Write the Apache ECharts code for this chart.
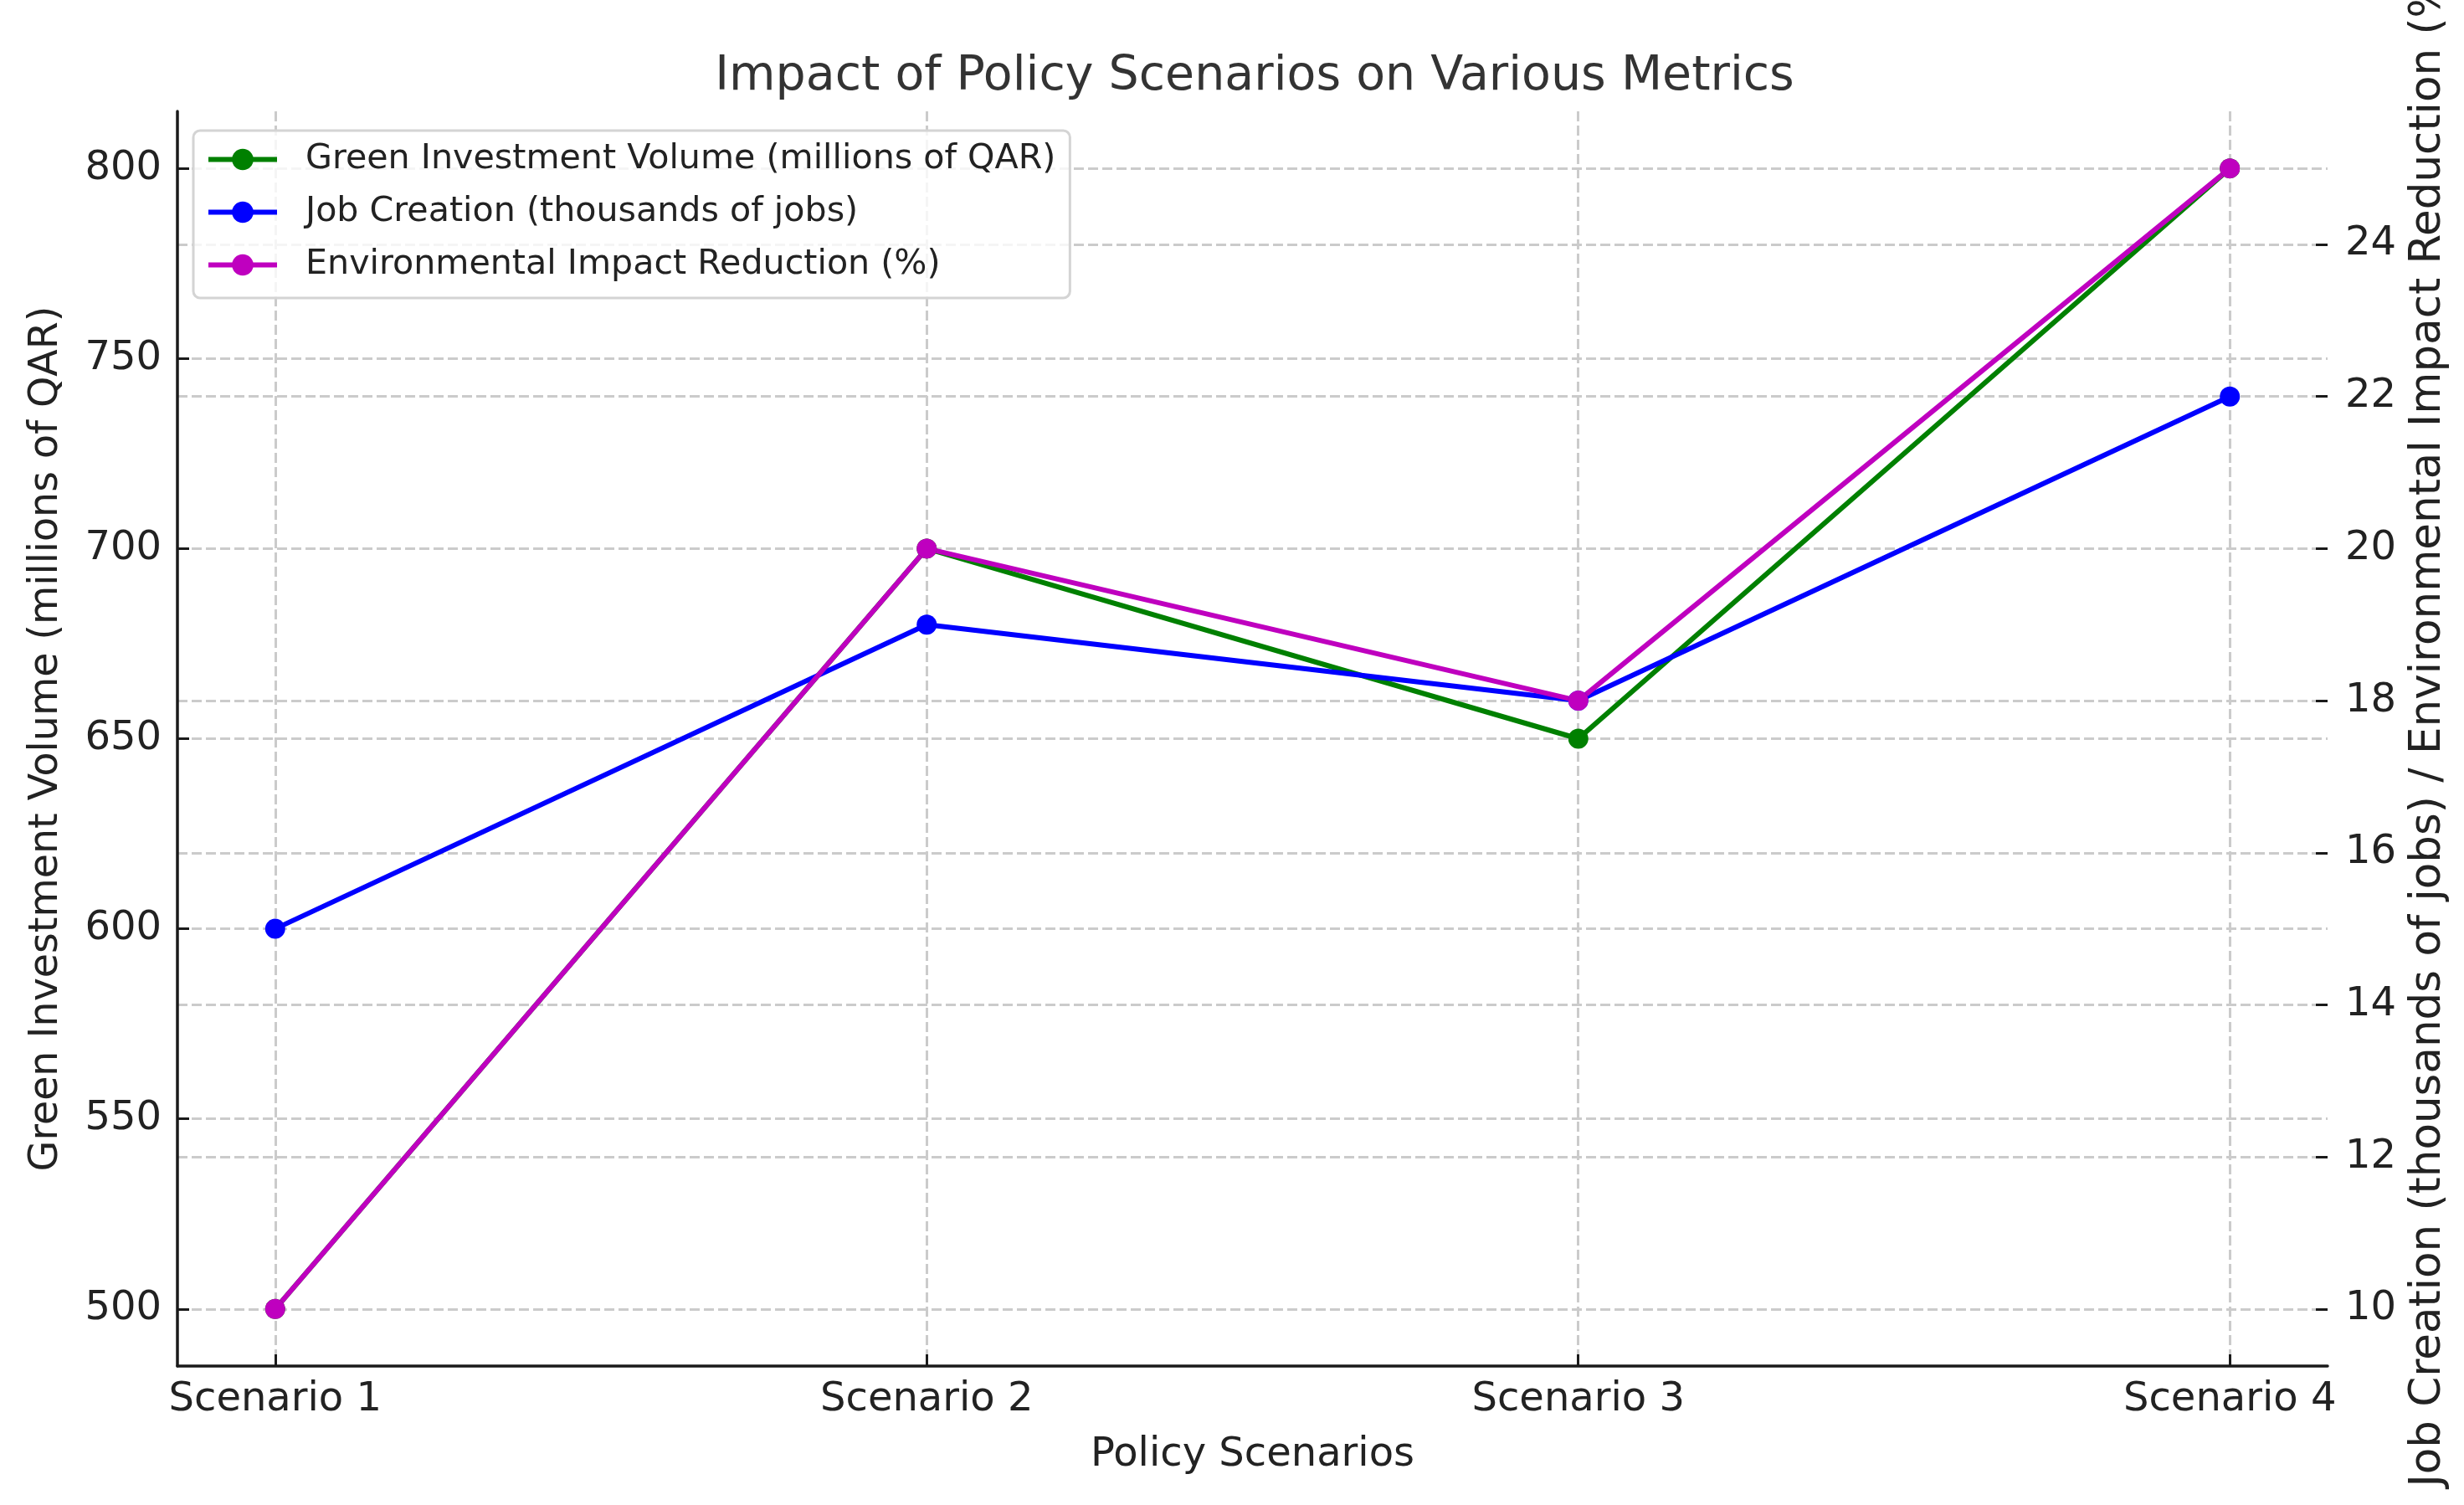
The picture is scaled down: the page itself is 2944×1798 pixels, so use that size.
<!DOCTYPE html>
<html>
<head>
<meta charset="utf-8">
<script src="https://cdn.jsdelivr.net/npm/echarts@6/dist/echarts.min.js"></script>
<style>
html,body{margin:0;padding:0;background:#fff;}
#chart{width:2944px;height:1798px;}
</style>
</head>
<body>
<div id="chart"></div>
<script>
const categories = ['Scenario 1', 'Scenario 2', 'Scenario 3', 'Scenario 4'];
const greenInvestment = [500, 700, 650, 800];
const jobCreation = [15, 19, 18, 22];
const envReduction = [10, 20, 18, 25];
const leftTicks = [500, 550, 600, 650, 700, 750, 800];
const rightTicks = [10, 12, 14, 16, 18, 20, 22, 24];
const categoryPositions = [0, 1, 2, 3];

const FONT = 'DejaVu Sans';
const TXT = '#222222';
const gridLine = { show: true, lineStyle: { color: '#cbcbcb', width: 3, type: [12, 5] } };

const chart = echarts.init(document.getElementById('chart'), null, { renderer: 'canvas' });

function toPairs(vals) { return vals.map((v, i) => [categoryPositions[i], v]); }

chart.setOption({
  animation: false,
  backgroundColor: '#ffffff',
  textStyle: { fontFamily: FONT },
  title: {
    text: 'Impact of Policy Scenarios on Various Metrics',
    left: 1494,
    top: 59,
    textAlign: 'center',
    textStyle: { fontFamily: FONT, fontSize: 57, fontWeight: 'normal', color: '#333333' }
  },
  legend: {
    orient: 'vertical',
    left: 231,
    top: 156,
    padding: [14, 17, 19, 15],
    itemGap: 22,
    itemWidth: 82,
    itemHeight: 32,
    backgroundColor: 'rgba(255,255,255,0.8)',
    borderColor: '#d4d4d4',
    borderWidth: 3,
    borderRadius: 8,
    lineStyle: { width: 6 },
    textStyle: { fontFamily: FONT, fontSize: 41.2, color: TXT, lineHeight: 40, padding: [0, 0, 0, 29] },
    data: ['Green Investment Volume (millions of QAR)', 'Job Creation (thousands of jobs)', 'Environmental Impact Reduction (%)']
  },
  grid: { left: 212, right: 163, top: 133, bottom: 166, containLabel: false, outerBoundsMode: 'none' },
  xAxis: {
    type: 'value',
    min: -0.15,
    max: 3.15,
    name: 'Policy Scenarios',
    nameLocation: 'middle',
    nameGap: 83,
    nameTextStyle: { fontFamily: FONT, fontSize: 48, color: TXT },
    axisLine: { show: true, onZero: false, lineStyle: { color: '#1a1a1a', width: 3.5 } },
    axisTick: { show: true, inside: true, length: 14, customValues: categoryPositions, lineStyle: { color: '#1a1a1a', width: 3 } },
    axisLabel: {
      customValues: categoryPositions,
      margin: 17,
      fontFamily: FONT, fontSize: 48, color: TXT,
      formatter: v => categories[Math.round(v)]
    },
    splitLine: gridLine
  },
  yAxis: [
    {
      type: 'value',
      position: 'left',
      min: 485,
      max: 815,
      name: 'Green Investment Volume (millions of QAR)',
      nameLocation: 'middle',
      nameRotate: 90,
      nameGap: 132,
      nameTextStyle: { fontFamily: FONT, fontSize: 47.5, color: TXT },
      axisLine: { show: true, onZero: false, lineStyle: { color: '#1a1a1a', width: 3.5 } },
      axisTick: { show: true, inside: true, length: 14, customValues: leftTicks, lineStyle: { color: '#1a1a1a', width: 3 } },
      axisLabel: { customValues: leftTicks, margin: 19, fontFamily: FONT, fontSize: 48, color: TXT },
      splitLine: gridLine
    },
    {
      type: 'value',
      position: 'right',
      min: 9.25,
      max: 25.75,
      name: 'Job Creation (thousands of jobs) / Environmental Impact Reduction (%)',
      nameLocation: 'middle',
      nameRotate: 90,
      nameGap: 95,
      nameTextStyle: { fontFamily: FONT, fontSize: 51.5, color: TXT, padding: [0, 0, 0, 36] },
      axisLine: { show: false, onZero: false },
      axisTick: { show: true, inside: true, length: 14, customValues: rightTicks, lineStyle: { color: '#1a1a1a', width: 3 } },
      axisLabel: { customValues: rightTicks, margin: 21, fontFamily: FONT, fontSize: 48, color: TXT },
      splitLine: gridLine
    }
  ],
  series: [
    {
      name: 'Green Investment Volume (millions of QAR)',
      type: 'line',
      yAxisIndex: 0,
      data: toPairs(greenInvestment),
      symbol: 'circle',
      symbolSize: 24,
      color: '#008000',
      lineStyle: { width: 6, color: '#008000' },
      itemStyle: { color: '#008000' }
    },
    {
      name: 'Job Creation (thousands of jobs)',
      type: 'line',
      yAxisIndex: 1,
      data: toPairs(jobCreation),
      symbol: 'circle',
      symbolSize: 24,
      color: '#0000ff',
      lineStyle: { width: 6, color: '#0000ff' },
      itemStyle: { color: '#0000ff' }
    },
    {
      name: 'Environmental Impact Reduction (%)',
      type: 'line',
      yAxisIndex: 1,
      data: toPairs(envReduction),
      symbol: 'circle',
      symbolSize: 24,
      color: '#bf00bf',
      lineStyle: { width: 6, color: '#bf00bf' },
      itemStyle: { color: '#bf00bf' }
    }
  ]
});
</script>
</body>
</html>
